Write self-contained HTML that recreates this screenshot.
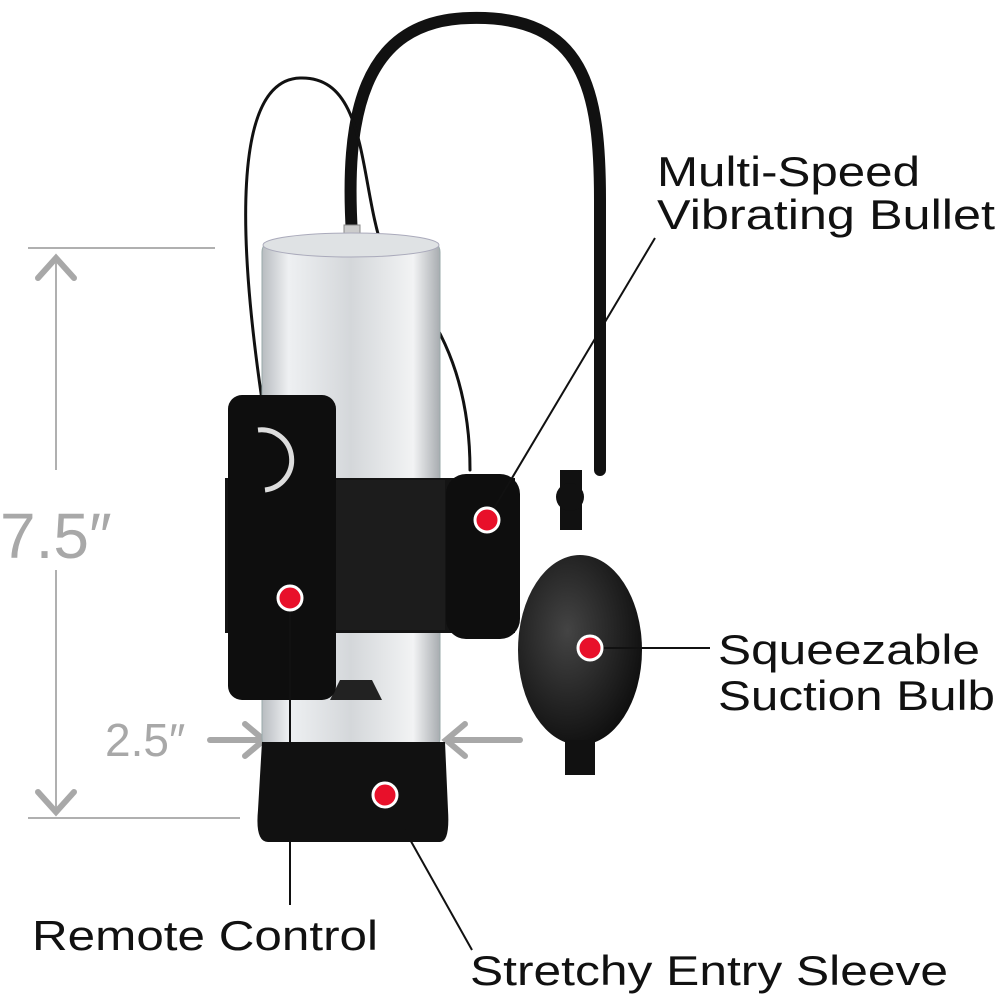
<!DOCTYPE html>
<html><head><meta charset="utf-8"><style>
html,body{margin:0;padding:0;background:#fff;}
svg{display:block;}
text{font-family:"Liberation Sans",sans-serif;}
</style></head><body>
<svg width="1001" height="1001" viewBox="0 0 1001 1001" xmlns="http://www.w3.org/2000/svg">
<defs>
<linearGradient id="cyl" x1="0" x2="1" y1="0" y2="0">
<stop offset="0" stop-color="#b8bcc0"/><stop offset="0.15" stop-color="#eef0f2"/>
<stop offset="0.5" stop-color="#d4d7da"/><stop offset="0.85" stop-color="#f2f3f4"/><stop offset="1" stop-color="#a8acb0"/>
</linearGradient>
<radialGradient id="bulb" cx="0.4" cy="0.4" r="0.7">
<stop offset="0" stop-color="#444"/><stop offset="1" stop-color="#0a0a0a"/>
</radialGradient>
</defs>
<g stroke="#b0b0b0" stroke-width="2" fill="none">
<line x1="28" y1="248" x2="215" y2="248"/>
<line x1="28" y1="818" x2="240" y2="818"/>
<line x1="56" y1="258" x2="56" y2="470"/>
<line x1="56" y1="570" x2="56" y2="810"/>
</g>
<g stroke="#a8a8a8" stroke-width="6" fill="none" stroke-linecap="round">
<polyline points="38,278 56,258 74,278"/>
<polyline points="38,792 56,812 74,792"/>
<line x1="210" y1="740" x2="262" y2="740"/>
<polyline points="245,724 264,740 245,756"/>
<line x1="448" y1="740" x2="520" y2="740"/>
<polyline points="465,724 446,740 465,756"/>
</g>
<text x="0" y="558" font-size="64" fill="#a8a8a8">7.5″</text>
<text x="105" y="756" font-size="46" fill="#a8a8a8">2.5″</text>
<g fill="none" stroke="#111" stroke-linecap="round">
<path d="M352 235 C345 120 360 20 470 18 C585 15 600 90 600 200 L600 470" stroke-width="12"/>
<path d="M262 400 C240 250 230 80 300 78 C390 75 345 260 420 300 C440 330 470 380 470 470" stroke-width="3"/>
</g>
<rect x="344" y="225" width="16" height="20" fill="#ccc" stroke="#888"/>
<rect x="262" y="240" width="178" height="510" rx="12" fill="url(#cyl)" stroke="#9aa" stroke-width="1"/>
<ellipse cx="351" cy="245" rx="88" ry="12" fill="#dfe2e4" stroke="#aab"/>
<path d="M330 700 L340 680 L372 680 L382 700 Z" fill="#222"/>
<path d="M262 742 L445 742 L448 810 Q450 842 440 842 L268 842 Q255 842 258 810 Z" fill="#111"/>
<rect x="225" y="478" width="290" height="155" fill="#141414"/>
<rect x="335" y="480" width="110" height="150" fill="#1c1c1c"/>
<rect x="228" y="395" width="108" height="305" rx="14" fill="#0e0e0e"/>
<path d="M258 430 A30 30 0 0 1 265 490" stroke="#ddd" stroke-width="5" fill="none"/>
<rect x="446" y="474" width="74" height="165" rx="20" fill="#0e0e0e"/>
<rect x="560" y="470" width="22" height="60" fill="#111"/>
<circle cx="570" cy="497" r="14" fill="#111"/>
<ellipse cx="580" cy="650" rx="62" ry="95" fill="url(#bulb)"/>
<rect x="565" y="740" width="30" height="35" fill="#111"/>
<g stroke="#111" stroke-width="2" fill="none">
<line x1="487" y1="520" x2="655" y2="238"/>
<line x1="590" y1="648" x2="710" y2="648"/>
<line x1="290" y1="598" x2="290" y2="905"/>
<line x1="385" y1="795" x2="472" y2="950"/>
</g>
<g fill="#e8102a" stroke="#fff" stroke-width="3">
<circle cx="290" cy="598" r="12"/>
<circle cx="487" cy="520" r="12"/>
<circle cx="590" cy="648" r="12"/>
<circle cx="385" cy="795" r="12"/>
</g>
<g font-size="42" fill="#111" lengthAdjust="spacingAndGlyphs">
<text x="657" y="186" textLength="263" lengthAdjust="spacingAndGlyphs">Multi-Speed</text>
<text x="657" y="229" textLength="338" lengthAdjust="spacingAndGlyphs">Vibrating Bullet</text>
<text x="718" y="664" textLength="262" lengthAdjust="spacingAndGlyphs">Squeezable</text>
<text x="718" y="710" textLength="277" lengthAdjust="spacingAndGlyphs">Suction Bulb</text>
<text x="32" y="950" textLength="346" lengthAdjust="spacingAndGlyphs">Remote Control</text>
<text x="470" y="985" textLength="478" lengthAdjust="spacingAndGlyphs">Stretchy Entry Sleeve</text>
</g>
</svg>
</body></html>
